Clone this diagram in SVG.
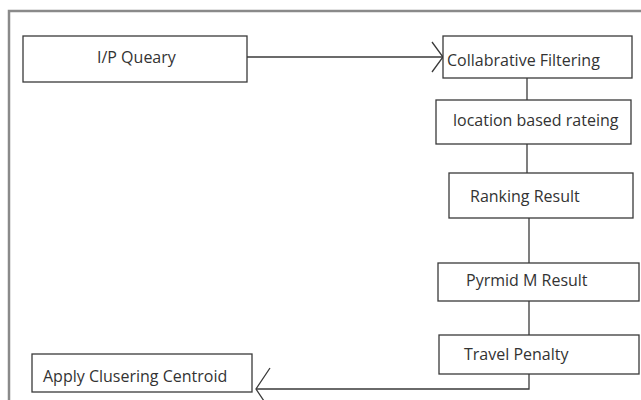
<svg xmlns="http://www.w3.org/2000/svg" width="641" height="400" viewBox="0 0 641 400">
<style>
.box{fill:#fff;stroke:#3a3a3a;stroke-width:1.3}
.lbl{font-family:"Open Sans","Liberation Sans",sans-serif;font-size:16px;fill:#333;dominant-baseline:central}
.con{fill:none;stroke:#3a3a3a;stroke-width:1.3}
</style>
<rect width="641" height="400" fill="#fff"/>
<path d="M9,400 V11 H641" fill="none" stroke="#8a8a8a" stroke-width="2.5"/>
<g id="connectors">
<path class="con" d="M247,57 H443"/>
<path class="con" d="M432,42 L443,57 L432,72"/>
<path class="con" d="M527,78 V100"/>
<path class="con" d="M527,144 V173"/>
<path class="con" d="M529,218 V263"/>
<path class="con" d="M529,301 V335"/>
<path class="con" d="M529,374 V389 H256"/>
<path class="con" d="M270,368 L256,389 L270,410"/>
</g>
<g id="n1"><rect class="box" x="23" y="36" width="224" height="46"/><text class="lbl" x="97" y="57">I/P Queary</text></g>
<g id="n2"><rect class="box" x="443" y="36" width="189" height="42"/><text class="lbl" x="447" y="60">Collabrative Filtering</text></g>
<g id="n3"><rect class="box" x="436" y="100" width="195" height="44"/><text class="lbl" x="453" y="120">location based rateing</text></g>
<g id="n4"><rect class="box" x="449" y="173" width="184" height="45"/><text class="lbl" x="470" y="196">Ranking Result</text></g>
<g id="n5"><rect class="box" x="438" y="263" width="201" height="38"/><text class="lbl" x="466" y="280">Pyrmid M Result</text></g>
<g id="n6"><rect class="box" x="439" y="335" width="200" height="39"/><text class="lbl" x="464" y="354">Travel Penalty</text></g>
<g id="n7"><rect class="box" x="32" y="354" width="220" height="38"/><text class="lbl" x="43" y="376">Apply Clusering Centroid</text></g>
</svg>
